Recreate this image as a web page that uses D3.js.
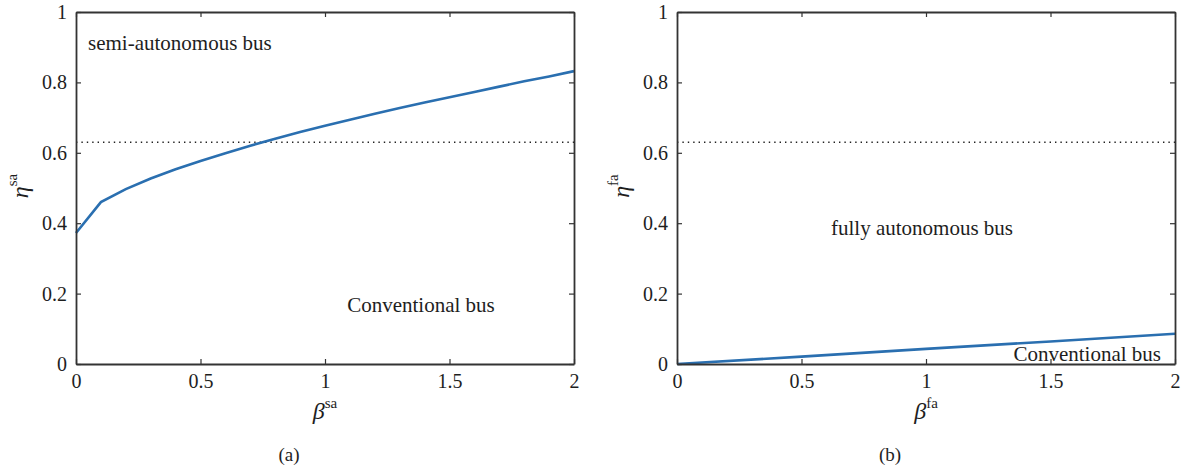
<html lang="en">
<head>
  <meta charset="UTF-8"/>
  <title>eta vs beta</title>
  <script src="https://d3js.org/d3.v7.min.js"></script>
  <style>
    body { margin: 0; background: #fff; }
    svg { display: block; }
    .domain, .tick line { stroke: #333; }
    .curve { fill: none; stroke: #2a6fb0; stroke-width: 2.6; }
    .thresh { stroke: #222; stroke-width: 1.6; stroke-dasharray: 1.4 4; }
  </style>
</head>
<body>
<svg width="1183" height="470"></svg>
<script>
// beta values (x)
const betaSA = [0, 0.1, 0.2, 0.3, 0.4, 0.5, 0.6, 0.7, 0.8, 0.9, 1.0,
                1.1, 1.2, 1.3, 1.4, 1.5, 1.6, 1.7, 1.8, 1.9, 2.0];
// eta^sa
const etaSA = [0.372, 0.460, 0.497, 0.527, 0.553, 0.577, 0.599, 0.620, 0.640, 0.659, 0.677,
               0.694, 0.711, 0.727, 0.743, 0.758, 0.773, 0.788, 0.803, 0.817, 0.832];
// panel (b): nearly straight line
const betaFA = [0, 0.5, 1.0, 1.5, 2.0];
const etaFA = [0, 0.021, 0.043, 0.064, 0.086];
const threshold = 0.63;

const xTicks = [0, 0.5, 1, 1.5, 2];
const yTicks = [0, 0.2, 0.4, 0.6, 0.8, 1];

const SERIF = '"Liberation Serif", "DejaVu Serif", "Times New Roman", serif';
const INK = '#1e1e1e';

const svg = d3.select('svg');

const panels = [
  { left: 76, right: 574, top: 12, bottom: 364, xs: betaSA, ys: etaSA, sup: 'sa', cap: '(a)',
    notes: [
      { text: 'semi-autonomous bus', x: 88, y: 50, anchor: 'start' },
      { text: 'Conventional bus', x: 421, y: 312, anchor: 'middle' }
    ] },
  { left: 677, right: 1175, top: 12, bottom: 364, xs: betaFA, ys: etaFA, sup: 'fa', cap: '(b)',
    notes: [
      { text: 'fully autonomous bus', x: 922, y: 235, anchor: 'middle' },
      { text: 'Conventional bus', x: 1161, y: 361, anchor: 'end' }
    ] }
];

panels.forEach(p => {
  const w = p.right - p.left;
  const h = p.bottom - p.top;
  const x = d3.scaleLinear().domain([0, 2]).range([0, w]);
  const y = d3.scaleLinear().domain([0, 1]).range([h, 0]);
  const g = svg.append('g').attr('transform', `translate(${p.left}, ${p.top})`);

  // threshold dotted line
  g.append('line').attr('class', 'thresh')
    .attr('x1', 0).attr('x2', w)
    .attr('y1', y(threshold)).attr('y2', y(threshold));

  g.append('path').attr('class', 'curve')
    .datum(p.xs.map((v, i) => [v, p.ys[i]]))
    .attr('d', d3.line().x(d => x(d[0])).y(d => y(d[1])));

  const fmt = d3.format('');
  g.append('g').attr('transform', `translate(0, ${h})`)
    .call(d3.axisBottom(x).tickValues(xTicks).tickFormat(fmt).tickSizeInner(-5).tickSizeOuter(0).tickPadding(10));
  g.append('g')
    .call(d3.axisLeft(y).tickValues(yTicks).tickFormat(fmt).tickSizeInner(-5).tickSizeOuter(0).tickPadding(9));
  g.append('g')
    .call(d3.axisTop(x).tickValues(xTicks).tickFormat('').tickSizeInner(-5).tickSizeOuter(0));
  g.append('g').attr('transform', `translate(${w}, 0)`)
    .call(d3.axisRight(y).tickValues(yTicks).tickFormat('').tickSizeInner(-5).tickSizeOuter(0));
  g.selectAll('.domain').attr('stroke-width', 1.8);
  g.selectAll('.tick line').attr('stroke-width', 1.2);
  g.selectAll('.tick text')
    .attr('font-family', SERIF).attr('font-size', 20).attr('fill', INK);

  p.notes.forEach(n => {
    g.append('text')
      .attr('font-family', SERIF).attr('font-size', 21).attr('fill', INK)
      .attr('x', n.x - p.left).attr('y', n.y - p.top)
      .attr('text-anchor', n.anchor).text(n.text);
  });

  // x label
  const xl = g.append('text')
    .attr('font-family', SERIF).attr('font-size', 24).attr('fill', INK)
    .attr('x', w / 2).attr('y', h + 55).attr('text-anchor', 'middle');
  xl.append('tspan').attr('font-style', 'italic').text('β');
  xl.append('tspan').attr('font-size', 15).attr('dy', -11).text(p.sup);

  // y label
  const yl = g.append('text')
    .attr('font-family', SERIF).attr('font-size', 24).attr('fill', INK)
    .attr('transform', `translate(-48, ${h / 2 - 2}) rotate(-90)`)
    .attr('text-anchor', 'middle');
  yl.append('tspan').attr('font-style', 'italic').text('η');
  yl.append('tspan').attr('font-size', 15).attr('dy', -11).text(p.sup);

  g.append('text')
    .attr('font-family', SERIF).attr('font-size', 19).attr('fill', INK)
    .attr('x', w / 2 - 36).attr('y', h + 97)
    .attr('text-anchor', 'middle').text(p.cap);
});
</script>
</body>
</html>
